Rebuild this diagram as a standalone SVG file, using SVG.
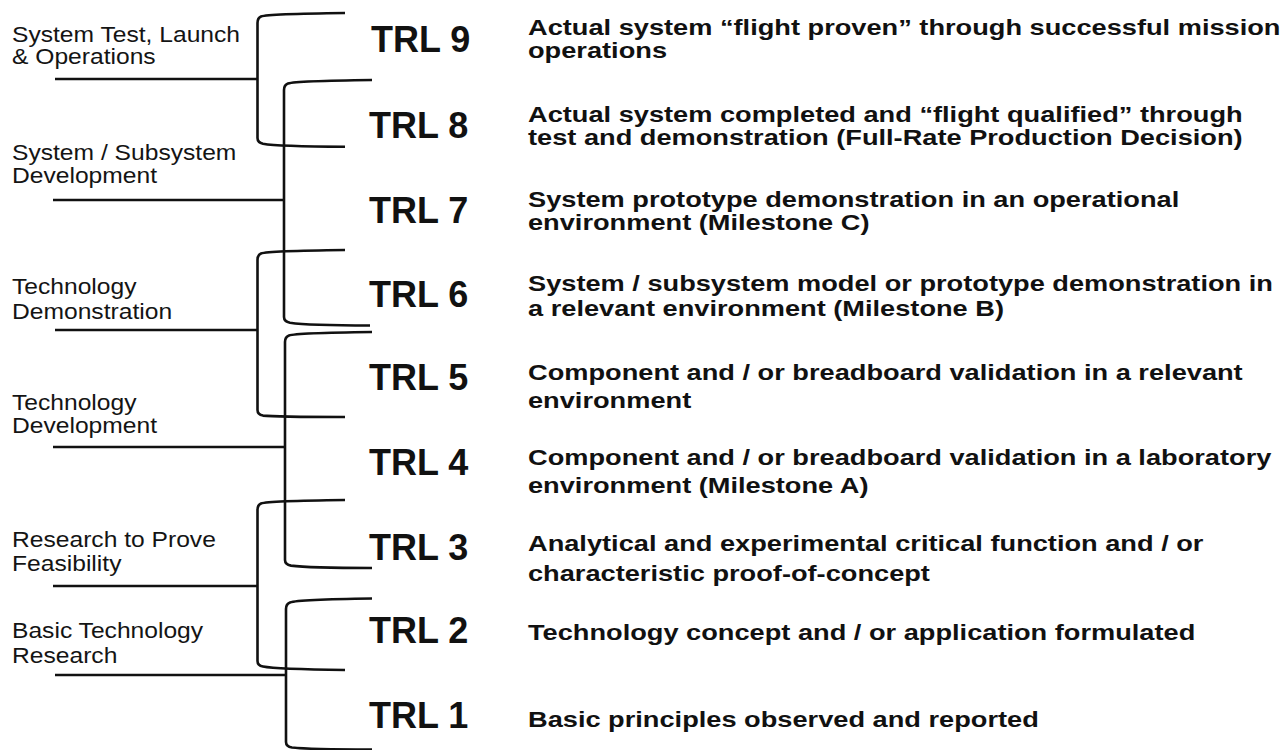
<svg xmlns="http://www.w3.org/2000/svg" width="1285" height="750" viewBox="0 0 1285 750">
<style>
.lbl{font-family:"Liberation Sans",Arial,sans-serif;font-size:21.5px;fill:#141414}
.trl{font-family:"Liberation Sans",Arial,sans-serif;font-size:36px;font-weight:bold;fill:#111}
.dsc{font-family:"Liberation Sans",Arial,sans-serif;font-size:22.5px;font-weight:bold;fill:#111}
.ln{stroke:#111;stroke-width:2.6;fill:none;stroke-linecap:butt}
</style>
<rect width="1285" height="750" fill="#ffffff"/>
<g id="connectors">
<path class="ln" d="M345,13 C300,13.5 268,14 261,16.5 Q257.5,18 257.5,23 L257.5,138 Q257.5,142.5 263,143.8 C275,146 300,146.6 345,146.8"/>
<path class="ln" d="M372,80 C330,80.5 296,81 288,83.5 Q284,85 284,90 L284,317 Q284,321.5 290,322.8 C305,325 330,325.5 370,325.5"/>
<path class="ln" d="M345,250 C300,250.5 268,251 261,253.5 Q257.5,255 257.5,260 L257.5,410 Q257.5,414.5 263,415.6 C275,417 300,417 345,417"/>
<path class="ln" d="M372,332 C330,332.5 296,333 289,335.5 Q285,337 285,342 L285,560 Q285,564.5 291,565.6 C305,567.5 330,568 372,568"/>
<path class="ln" d="M345,500 C300,500.5 268,501 261,503.5 Q257.5,505 257.5,510 L257.5,661 Q257.5,665.5 263,666.6 C275,669 300,669.5 345,670"/>
<path class="ln" d="M372,598.5 C330,599 297,600 290,602.5 Q286,604 286,609 L286,742 Q286,746.5 292,747.5 C305,749 330,749.5 372,749.5"/>
<line class="ln" x1="55" y1="79" x2="257.5" y2="79"/>
<line class="ln" x1="53" y1="200" x2="284" y2="200"/>
<line class="ln" x1="55" y1="330" x2="257.5" y2="330"/>
<line class="ln" x1="53" y1="447" x2="285" y2="447"/>
<line class="ln" x1="53" y1="586" x2="257.5" y2="586"/>
<line class="ln" x1="55" y1="675" x2="286" y2="675"/>
</g>
<g id="phase-system-test">
<g transform="translate(12,0) scale(1.145,1)"><text class="lbl" x="0" y="42">System Test, Launch</text><text class="lbl" x="0" y="64">&amp; Operations</text></g>
</g>
<g id="phase-system-dev">
<g transform="translate(12,0) scale(1.145,1)"><text class="lbl" x="0" y="160">System / Subsystem</text><text class="lbl" x="0" y="183">Development</text></g>
</g>
<g id="phase-tech-demo">
<g transform="translate(12,0) scale(1.145,1)"><text class="lbl" x="0" y="294">Technology</text><text class="lbl" x="0" y="319">Demonstration</text></g>
</g>
<g id="phase-tech-dev">
<g transform="translate(12,0) scale(1.145,1)"><text class="lbl" x="0" y="410">Technology</text><text class="lbl" x="0" y="433">Development</text></g>
</g>
<g id="phase-research-feasibility">
<g transform="translate(12,0) scale(1.145,1)"><text class="lbl" x="0" y="547">Research to Prove</text><text class="lbl" x="0" y="571">Feasibility</text></g>
</g>
<g id="phase-basic-research">
<g transform="translate(12,0) scale(1.145,1)"><text class="lbl" x="0" y="638">Basic Technology</text><text class="lbl" x="0" y="663">Research</text></g>
</g>
<g id="trl9"><text class="trl" x="371" y="52">TRL 9</text>
<g transform="translate(528,0) scale(1.209,1)"><text class="dsc" x="0" y="35">Actual system “flight proven” through successful mission</text><text class="dsc" x="0" y="58">operations</text></g></g>
<g id="trl8"><text class="trl" x="369" y="138">TRL 8</text>
<g transform="translate(528,0) scale(1.209,1)"><text class="dsc" x="0" y="122">Actual system completed and “flight qualified” through</text><text class="dsc" x="0" y="145">test and demonstration (Full-Rate Production Decision)</text></g></g>
<g id="trl7"><text class="trl" x="369" y="223">TRL 7</text>
<g transform="translate(528,0) scale(1.209,1)"><text class="dsc" x="0" y="207">System prototype demonstration in an operational</text><text class="dsc" x="0" y="230">environment (Milestone C)</text></g></g>
<g id="trl6"><text class="trl" x="369" y="307">TRL 6</text>
<g transform="translate(528,0) scale(1.209,1)"><text class="dsc" x="0" y="291">System / subsystem model or prototype demonstration in</text><text class="dsc" x="0" y="316">a relevant environment (Milestone B)</text></g></g>
<g id="trl5"><text class="trl" x="369" y="390">TRL 5</text>
<g transform="translate(528,0) scale(1.209,1)"><text class="dsc" x="0" y="380">Component and / or breadboard validation in a relevant</text><text class="dsc" x="0" y="408">environment</text></g></g>
<g id="trl4"><text class="trl" x="369" y="475">TRL 4</text>
<g transform="translate(528,0) scale(1.209,1)"><text class="dsc" x="0" y="465">Component and / or breadboard validation in a laboratory</text><text class="dsc" x="0" y="493">environment (Milestone A)</text></g></g>
<g id="trl3"><text class="trl" x="369" y="560">TRL 3</text>
<g transform="translate(528,0) scale(1.209,1)"><text class="dsc" x="0" y="551">Analytical and experimental critical function and / or</text><text class="dsc" x="0" y="581">characteristic proof-of-concept</text></g></g>
<g id="trl2"><text class="trl" x="369" y="643">TRL 2</text>
<g transform="translate(528,0) scale(1.209,1)"><text class="dsc" x="0" y="640">Technology concept and / or application formulated</text></g></g>
<g id="trl1"><text class="trl" x="369" y="728">TRL 1</text>
<g transform="translate(528,0) scale(1.209,1)"><text class="dsc" x="0" y="727">Basic principles observed and reported</text></g></g>
</svg>
